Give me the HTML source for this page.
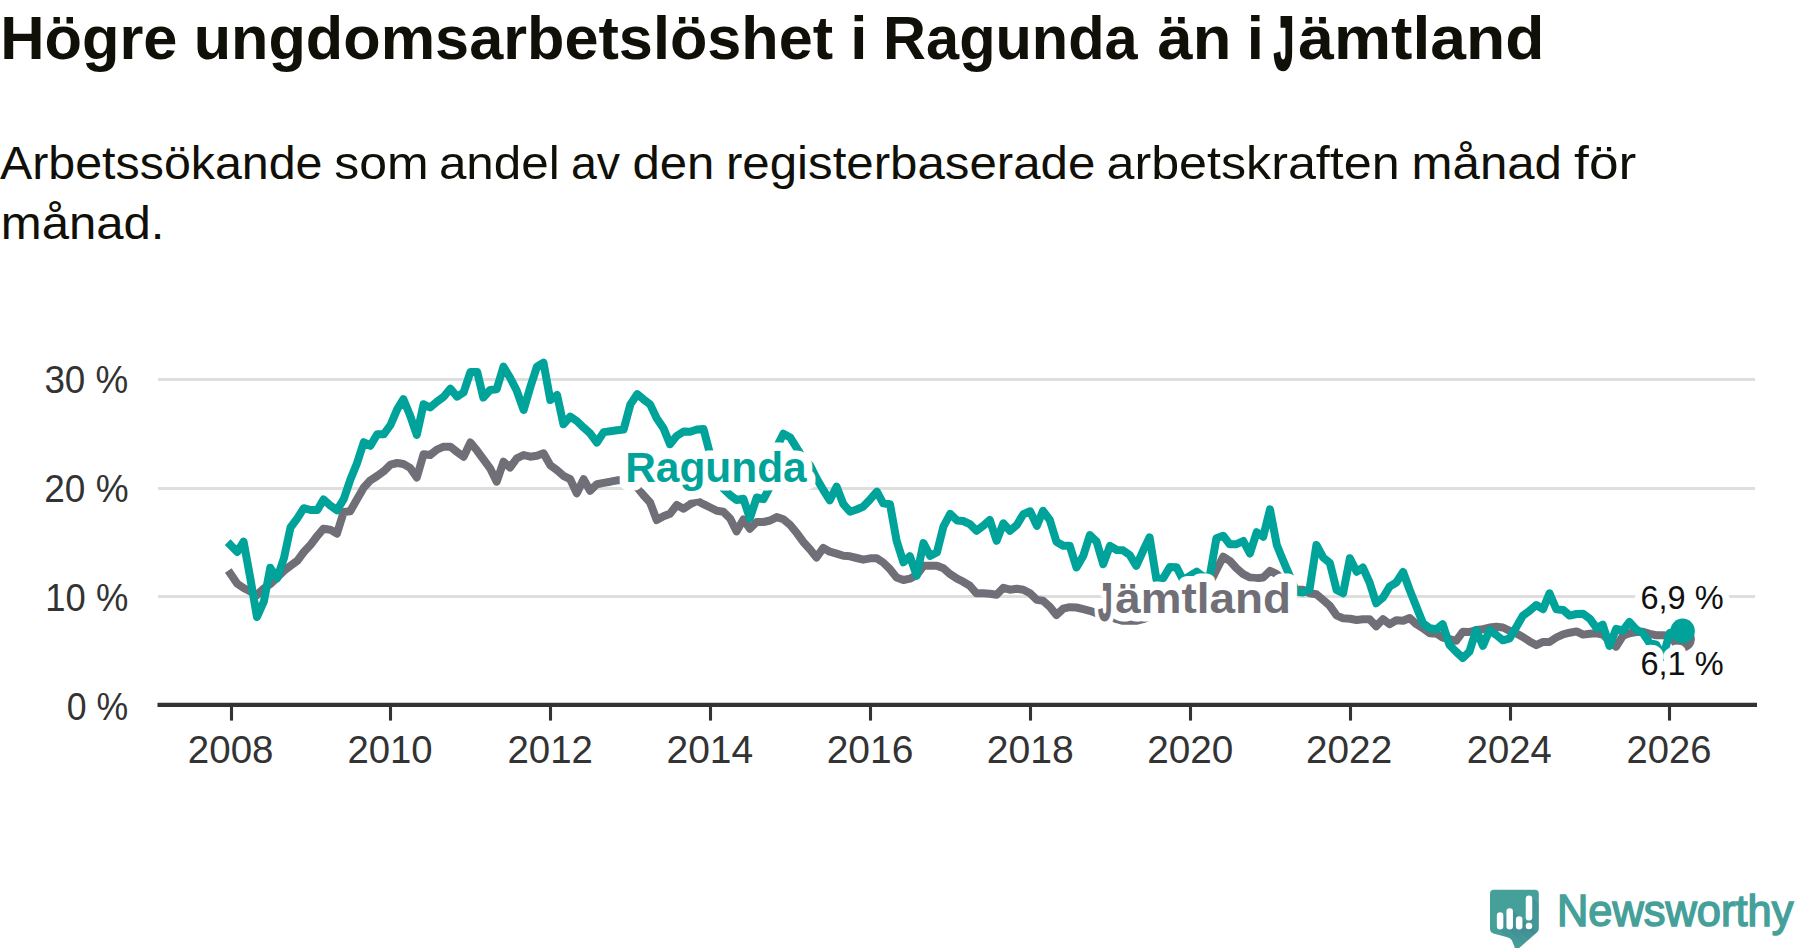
<!DOCTYPE html>
<html lang="sv"><head><meta charset="utf-8"><title>Högre ungdomsarbetslöshet i Ragunda än i Jämtland</title>
<style>html,body{margin:0;padding:0;background:#fff;overflow:hidden}svg{display:block}text{font-family:'Liberation Sans', 'DejaVu Sans', sans-serif}</style></head><body>
<svg width="1800" height="948" viewBox="0 0 1800 948">
<rect width="1800" height="948" fill="#ffffff"/>
<text><tspan x="0.20" y="59.0" font-size="61.8" fill="#111008" font-weight="bold" textLength="177.30" lengthAdjust="spacingAndGlyphs">Högre</tspan> <tspan x="193.70" y="59.0" font-size="61.8" fill="#111008" font-weight="bold" textLength="639.50" lengthAdjust="spacingAndGlyphs">ungdomsarbetslöshet</tspan> <tspan x="850.33" y="59.0" font-size="61.8" fill="#111008" font-weight="bold">i</tspan> <tspan x="883.07" y="59.0" font-size="61.8" fill="#111008" font-weight="bold" textLength="254.60" lengthAdjust="spacingAndGlyphs">Ragunda</tspan> <tspan x="1157.50" y="59.0" font-size="61.8" fill="#111008" font-weight="bold" textLength="73.80" lengthAdjust="spacingAndGlyphs">än</tspan> <tspan x="1246.78" y="59.0" font-size="61.8" fill="#111008" font-weight="bold">i</tspan> <tspan x="1274.00" y="68.5" font-size="74.1" fill="#111008" font-weight="bold" textLength="19.78" lengthAdjust="spacingAndGlyphs" stroke="#111008" stroke-width="3.4" stroke-linejoin="miter">J</tspan><tspan x="1298.20" y="59.0" font-size="61.8" fill="#111008" font-weight="bold" textLength="246.30" lengthAdjust="spacingAndGlyphs">ämtland</tspan></text>
<text><tspan x="0.00" y="178.8" font-size="46.8" fill="#111008" textLength="322.50" lengthAdjust="spacingAndGlyphs">Arbetssökande</tspan> <tspan x="334.20" y="178.8" font-size="46.8" fill="#111008" textLength="94.40" lengthAdjust="spacingAndGlyphs">som</tspan> <tspan x="438.90" y="178.8" font-size="46.8" fill="#111008" textLength="120.80" lengthAdjust="spacingAndGlyphs">andel</tspan> <tspan x="570.90" y="178.8" font-size="46.8" fill="#111008" textLength="49.10" lengthAdjust="spacingAndGlyphs">av</tspan> <tspan x="632.50" y="178.8" font-size="46.8" fill="#111008" textLength="81.90" lengthAdjust="spacingAndGlyphs">den</tspan> <tspan x="725.97" y="178.8" font-size="46.8" fill="#111008" textLength="369.40" lengthAdjust="spacingAndGlyphs">registerbaserade</tspan> <tspan x="1106.50" y="178.8" font-size="46.8" fill="#111008" textLength="293.10" lengthAdjust="spacingAndGlyphs">arbetskraften</tspan> <tspan x="1411.60" y="178.8" font-size="46.8" fill="#111008" textLength="150.30" lengthAdjust="spacingAndGlyphs">månad</tspan> <tspan x="1574.10" y="178.8" font-size="46.8" fill="#111008" textLength="62.20" lengthAdjust="spacingAndGlyphs">för</tspan> <tspan x="0.78" y="238.8" font-size="46.8" fill="#111008" textLength="163.72" lengthAdjust="spacingAndGlyphs">månad.</tspan></text>
<line x1="158" x2="1755" y1="596.45" y2="596.45" stroke="#dedede" stroke-width="3.1"/>
<line x1="158" x2="1755" y1="488.45" y2="488.45" stroke="#dedede" stroke-width="3.1"/>
<line x1="158" x2="1755" y1="379.45" y2="379.45" stroke="#dedede" stroke-width="3.1"/>
<text x="66.82" y="719.7" font-size="38.2" fill="#333333" textLength="61.46" lengthAdjust="spacingAndGlyphs">0 %</text>
<text x="45.35" y="610.9" font-size="38.2" fill="#333333" textLength="82.93" lengthAdjust="spacingAndGlyphs">10 %</text>
<text x="44.30" y="502.0" font-size="38.2" fill="#333333" textLength="84.34" lengthAdjust="spacingAndGlyphs">20 %</text>
<text x="44.39" y="392.9" font-size="38.2" fill="#333333" textLength="83.89" lengthAdjust="spacingAndGlyphs">30 %</text>
<path d="M230.5,573.7 L237.3,583.7 L243.6,588.0 L250.4,591.5 L257.0,595.0 L263.8,588.5 L270.3,584.0 L277.1,577.5 L283.9,570.8 L290.5,565.8 L297.3,560.8 L303.8,552.0 L310.6,544.7 L317.4,535.8 L323.5,528.7 L330.3,529.7 L336.9,533.7 L343.7,512.0 L350.2,511.3 L357.0,499.2 L363.8,487.5 L370.4,480.3 L377.2,476.0 L383.7,471.3 L390.5,464.7 L397.3,463.0 L403.4,464.0 L410.2,467.9 L416.8,477.5 L423.6,454.2 L430.1,455.0 L436.9,449.7 L443.7,446.7 L450.3,446.7 L457.1,452.0 L463.6,456.7 L470.4,442.5 L477.2,450.8 L483.3,459.2 L490.1,468.3 L496.7,481.7 L503.5,461.7 L510.0,467.5 L516.8,458.3 L523.6,455.0 L530.2,456.7 L536.9,455.8 L543.5,453.3 L550.3,465.3 L557.1,470.3 L563.4,475.8 L570.2,479.2 L576.8,493.3 L583.6,479.2 L590.1,490.8 L596.9,484.2 L603.7,482.9 L610.3,481.7 L617.1,480.3 L623.6,480.1 L630.4,481.1 L637.2,487.5 L643.3,495.0 L650.1,502.5 L656.7,520.0 L663.5,516.3 L670.0,513.7 L676.8,505.0 L683.6,508.7 L690.2,504.2 L697.0,500.8 L703.5,504.2 L710.3,507.5 L717.1,510.8 L723.2,511.7 L730.0,518.3 L736.6,531.4 L743.4,519.4 L749.9,528.7 L756.7,522.0 L763.5,522.0 L770.1,520.5 L776.8,517.1 L783.4,519.2 L790.2,525.0 L797.0,533.3 L803.1,541.7 L809.9,549.2 L816.5,557.5 L823.3,547.9 L829.8,551.7 L836.6,553.6 L843.4,555.8 L850.0,556.3 L856.7,558.0 L863.3,559.7 L870.1,558.3 L876.9,558.3 L883.2,562.5 L890.0,569.2 L896.6,577.5 L903.4,580.0 L909.9,578.7 L916.7,575.0 L923.5,565.8 L930.1,565.8 L936.9,565.8 L943.4,568.3 L950.2,574.2 L957.0,578.7 L963.1,581.7 L969.9,585.8 L976.5,593.3 L983.3,593.3 L989.8,593.7 L996.6,594.7 L1003.4,587.8 L1010.0,589.7 L1016.8,588.8 L1023.3,589.7 L1030.1,593.3 L1036.9,599.9 L1043.0,600.8 L1049.8,606.7 L1056.4,615.0 L1063.2,608.7 L1069.7,607.2 L1076.5,607.5 L1083.3,609.2 L1089.9,610.8 L1096.6,613.3 L1103.2,615.0 L1110.0,616.7 L1116.8,619.2 L1122.9,620.8 L1129.7,620.8 L1136.3,620.8 L1143.1,619.2 L1149.6,616.7 L1156.4,613.3 L1163.2,612.5 L1169.8,610.0 L1176.5,606.7 L1183.1,605.0 L1189.9,603.3 L1196.7,600.0 L1203.0,593.3 L1209.8,583.3 L1216.4,570.0 L1223.2,556.7 L1229.7,560.8 L1236.5,568.3 L1243.3,574.2 L1249.9,577.5 L1256.7,578.3 L1263.2,577.5 L1270.0,570.8 L1276.8,574.2 L1282.9,580.0 L1289.7,585.0 L1296.3,589.7 L1303.1,589.7 L1309.6,593.3 L1316.4,594.2 L1323.2,600.0 L1329.8,605.8 L1336.6,615.3 L1343.1,618.3 L1349.9,618.7 L1356.7,620.0 L1362.8,619.2 L1369.6,619.2 L1376.2,626.3 L1383.0,619.2 L1389.5,624.2 L1396.3,620.3 L1403.1,620.8 L1409.7,618.0 L1416.4,624.2 L1423.0,628.3 L1429.8,633.3 L1436.6,633.7 L1442.7,637.5 L1449.5,639.2 L1456.1,640.8 L1462.9,631.7 L1469.4,632.0 L1476.2,630.0 L1483.0,629.2 L1489.6,627.5 L1496.3,626.7 L1502.9,627.5 L1509.7,630.8 L1516.5,633.5 L1522.8,637.0 L1529.6,641.4 L1536.2,645.1 L1543.0,641.9 L1549.5,642.0 L1556.3,637.5 L1563.1,634.3 L1569.7,632.7 L1576.5,631.4 L1583.0,634.6 L1589.8,633.7 L1596.6,633.3 L1602.7,634.6 L1609.5,640.9 L1616.1,646.6 L1622.9,635.8 L1629.4,633.3 L1636.2,632.0 L1643.0,631.8 L1649.6,633.9 L1656.3,635.2 L1662.9,635.2 L1669.7,635.8 L1676.5,641.5 L1682.6,639.0" fill="none" stroke="#706f77" stroke-width="8.0" stroke-linejoin="round" stroke-linecap="square"/>
<circle cx="1682.6" cy="639.0" r="12.3" fill="#706f77"/>
<path d="M230.5,545.0 L237.3,552.0 L243.6,541.6 L250.4,578.8 L257.0,617.0 L263.8,601.7 L270.3,567.8 L277.1,578.3 L283.9,558.3 L290.5,527.5 L297.3,518.3 L303.8,508.2 L310.6,510.0 L317.4,510.0 L323.5,499.5 L330.3,505.5 L336.9,510.3 L343.7,499.2 L350.2,480.0 L357.0,463.3 L363.8,442.2 L370.4,445.8 L377.2,434.3 L383.7,434.3 L390.5,425.0 L397.3,409.2 L403.4,399.2 L410.2,415.8 L416.8,435.0 L423.6,404.2 L430.1,407.5 L436.9,401.7 L443.7,396.7 L450.3,388.7 L457.1,396.7 L463.6,392.5 L470.4,372.0 L477.2,372.0 L483.3,397.5 L490.1,390.0 L496.7,389.2 L503.5,366.7 L510.0,377.5 L516.8,390.8 L523.6,410.0 L530.2,387.5 L536.9,366.7 L543.5,362.7 L550.3,400.0 L557.1,395.0 L563.4,424.2 L570.2,416.7 L576.8,421.0 L583.6,427.6 L590.1,433.3 L596.9,442.5 L603.7,432.1 L610.3,431.2 L617.1,430.2 L623.6,429.6 L630.4,404.4 L637.2,394.2 L643.3,399.2 L650.1,404.4 L656.7,418.3 L663.5,428.3 L670.0,444.2 L676.8,435.8 L683.6,431.6 L690.2,431.8 L697.0,429.5 L703.5,428.9 L710.3,455.0 L717.1,473.3 L723.2,488.3 L730.0,495.0 L736.6,500.0 L743.4,498.7 L749.9,518.3 L756.7,497.5 L763.5,499.2 L770.1,486.7 L776.8,446.7 L783.4,433.7 L790.2,437.5 L797.0,448.3 L803.1,458.3 L809.9,465.0 L816.5,478.3 L823.3,490.0 L829.8,500.3 L836.6,486.7 L843.4,504.2 L850.0,511.7 L856.7,509.5 L863.3,506.6 L870.1,499.4 L876.9,491.7 L883.2,503.3 L890.0,504.2 L896.6,540.8 L903.4,562.3 L909.9,556.2 L916.7,575.8 L923.5,543.1 L930.1,555.8 L936.9,552.5 L943.4,526.7 L950.2,513.9 L957.0,520.4 L963.1,521.0 L969.9,524.1 L976.5,530.8 L983.3,525.8 L989.8,520.0 L996.6,540.8 L1003.4,523.3 L1010.0,530.8 L1016.8,525.0 L1023.3,514.2 L1030.1,511.3 L1036.9,525.8 L1043.0,510.8 L1049.8,520.0 L1056.4,541.7 L1063.2,545.8 L1069.7,545.8 L1076.5,567.5 L1083.3,555.8 L1089.9,535.0 L1096.6,541.7 L1103.2,564.2 L1110.0,545.8 L1116.8,550.0 L1122.9,550.3 L1129.7,555.0 L1136.3,565.8 L1143.1,550.8 L1149.6,537.3 L1156.4,579.2 L1163.2,578.3 L1169.8,567.1 L1176.5,567.2 L1183.1,580.0 L1189.9,575.8 L1196.7,571.7 L1203.0,576.7 L1209.8,576.0 L1216.4,538.3 L1223.2,535.8 L1229.7,544.2 L1236.5,544.2 L1243.3,541.0 L1249.9,553.5 L1256.7,532.2 L1263.2,536.7 L1270.0,509.4 L1276.8,545.0 L1282.9,560.0 L1289.7,575.8 L1296.3,591.7 L1303.1,592.5 L1309.6,589.2 L1316.4,545.0 L1323.2,557.5 L1329.8,562.8 L1336.6,590.0 L1343.1,593.3 L1349.9,558.3 L1356.7,571.7 L1362.8,567.5 L1369.6,582.5 L1376.2,603.3 L1383.0,597.5 L1389.5,586.7 L1396.3,582.5 L1403.1,572.0 L1409.7,590.0 L1416.4,606.7 L1423.0,623.3 L1429.8,628.3 L1436.6,629.2 L1442.7,624.2 L1449.5,645.0 L1456.1,651.7 L1462.9,658.0 L1469.4,651.7 L1476.2,630.0 L1483.0,645.8 L1489.6,630.0 L1496.3,635.0 L1502.9,640.3 L1509.7,638.3 L1516.5,626.7 L1522.8,615.8 L1529.6,610.8 L1536.2,605.0 L1543.0,609.2 L1549.5,593.3 L1556.3,609.2 L1563.1,609.9 L1569.7,615.6 L1576.5,614.0 L1583.0,613.7 L1589.8,618.7 L1596.6,628.2 L1602.7,624.6 L1609.5,646.0 L1616.1,628.9 L1622.9,630.5 L1629.4,622.0 L1636.2,629.5 L1643.0,633.3 L1649.6,643.1 L1656.3,644.7 L1662.9,657.3 L1669.7,633.0 L1676.5,631.6 L1682.6,630.9" fill="none" stroke="#00a39a" stroke-width="8.0" stroke-linejoin="round" stroke-linecap="square"/>
<circle cx="1682.6" cy="630.9" r="12.3" fill="#00a39a"/>
<line x1="157.5" x2="1757" y1="704.9" y2="704.9" stroke="#333333" stroke-width="4.1"/>
<line x1="231.5" x2="231.5" y1="704.9" y2="720.6" stroke="#333333" stroke-width="3.1"/>
<text x="187.86" y="762.6" font-size="38.2" fill="#333333" textLength="85.60" lengthAdjust="spacingAndGlyphs">2008</text>
<line x1="390.5" x2="390.5" y1="704.9" y2="720.6" stroke="#333333" stroke-width="3.1"/>
<text x="347.40" y="762.6" font-size="38.2" fill="#333333" textLength="85.24" lengthAdjust="spacingAndGlyphs">2010</text>
<line x1="550.5" x2="550.5" y1="704.9" y2="720.6" stroke="#333333" stroke-width="3.1"/>
<text x="507.44" y="762.6" font-size="38.2" fill="#333333" textLength="85.42" lengthAdjust="spacingAndGlyphs">2012</text>
<line x1="710.5" x2="710.5" y1="704.9" y2="720.6" stroke="#333333" stroke-width="3.1"/>
<text x="666.53" y="762.6" font-size="38.2" fill="#333333" textLength="86.68" lengthAdjust="spacingAndGlyphs">2014</text>
<line x1="870.5" x2="870.5" y1="704.9" y2="720.6" stroke="#333333" stroke-width="3.1"/>
<text x="826.67" y="762.6" font-size="38.2" fill="#333333" textLength="86.68" lengthAdjust="spacingAndGlyphs">2016</text>
<line x1="1030.5" x2="1030.5" y1="704.9" y2="720.6" stroke="#333333" stroke-width="3.1"/>
<text x="986.65" y="762.6" font-size="38.2" fill="#333333" textLength="87.04" lengthAdjust="spacingAndGlyphs">2018</text>
<line x1="1190.5" x2="1190.5" y1="704.9" y2="720.6" stroke="#333333" stroke-width="3.1"/>
<text x="1147.15" y="762.6" font-size="38.2" fill="#333333" textLength="86.14" lengthAdjust="spacingAndGlyphs">2020</text>
<line x1="1350.5" x2="1350.5" y1="704.9" y2="720.6" stroke="#333333" stroke-width="3.1"/>
<text x="1306.06" y="762.6" font-size="38.2" fill="#333333" textLength="86.14" lengthAdjust="spacingAndGlyphs">2022</text>
<line x1="1510.5" x2="1510.5" y1="704.9" y2="720.6" stroke="#333333" stroke-width="3.1"/>
<text x="1466.73" y="762.6" font-size="38.2" fill="#333333" textLength="85.06" lengthAdjust="spacingAndGlyphs">2024</text>
<line x1="1669.5" x2="1669.5" y1="704.9" y2="720.6" stroke="#333333" stroke-width="3.1"/>
<text x="1626.54" y="762.6" font-size="38.2" fill="#333333" textLength="84.88" lengthAdjust="spacingAndGlyphs">2026</text>
<text aria-hidden="true"><tspan x="625.20" y="481.8" font-size="43.2" fill="#ffffff" font-weight="bold" textLength="181.50" lengthAdjust="spacingAndGlyphs" stroke="#ffffff" stroke-width="17" stroke-linejoin="round" paint-order="stroke fill">Ragunda</tspan></text>
<text aria-hidden="true"><tspan x="1098.17" y="620.1" font-size="52.1" fill="#ffffff" font-weight="bold" textLength="13.90" lengthAdjust="spacingAndGlyphs" stroke="#ffffff" stroke-width="17" stroke-linejoin="round" paint-order="stroke fill">J</tspan><tspan x="1115.34" y="613.0" font-size="43.2" fill="#ffffff" font-weight="bold" textLength="175.76" lengthAdjust="spacingAndGlyphs" stroke="#ffffff" stroke-width="17" stroke-linejoin="round" paint-order="stroke fill">ämtland</tspan></text>
<text aria-hidden="true"><tspan x="1640.50" y="609.2" font-size="33.2" fill="#ffffff" textLength="83.10" lengthAdjust="spacingAndGlyphs" stroke="#ffffff" stroke-width="14.4" stroke-linejoin="round" paint-order="stroke fill">6,9 %</tspan></text>
<text aria-hidden="true"><tspan x="1640.50" y="675.0" font-size="33.2" fill="#ffffff" textLength="83.10" lengthAdjust="spacingAndGlyphs" stroke="#ffffff" stroke-width="14.4" stroke-linejoin="round" paint-order="stroke fill">6,1 %</tspan></text>
<text><tspan x="625.20" y="481.8" font-size="43.2" fill="#00a39a" font-weight="bold" textLength="181.50" lengthAdjust="spacingAndGlyphs">Ragunda</tspan></text>
<text><tspan x="1098.17" y="620.1" font-size="52.1" fill="#706f77" font-weight="bold" textLength="13.90" lengthAdjust="spacingAndGlyphs" stroke="#706f77" stroke-width="1.8" stroke-linejoin="miter">J</tspan><tspan x="1115.34" y="613.0" font-size="43.2" fill="#706f77" font-weight="bold" textLength="175.76" lengthAdjust="spacingAndGlyphs">ämtland</tspan></text>
<text><tspan x="1640.50" y="609.2" font-size="33.2" fill="#111111" textLength="83.10" lengthAdjust="spacingAndGlyphs">6,9 %</tspan></text>
<text><tspan x="1640.50" y="675.0" font-size="33.2" fill="#111111" textLength="83.10" lengthAdjust="spacingAndGlyphs">6,1 %</tspan></text>
<g id="logo">
<defs><clipPath id="bub"><path d="M1494,889.7 H1534.8 Q1538.8,889.7 1538.8,893.7 V928.5 Q1538.8,931 1536.8,932.6 L1517.5,949.5 H1515.5 L1512.8,942.6 Q1511.5,938.6 1508.2,937.6 L1493.4,933.4 Q1490,932.3 1490,929 V893.7 Q1490,889.7 1494,889.7 Z"/></clipPath><linearGradient id="shd" x1="0" y1="0" x2="1" y2="1"><stop offset="0" stop-color="#3b6f8c" stop-opacity="0.32"/><stop offset="1" stop-color="#3b6f8c" stop-opacity="0"/></linearGradient></defs>
<path d="M1494,889.7 H1534.8 Q1538.8,889.7 1538.8,893.7 V928.5 Q1538.8,931 1536.8,932.6 L1517.5,949.5 H1515.5 L1512.8,942.6 Q1511.5,938.6 1508.2,937.6 L1493.4,933.4 Q1490,932.3 1490,929 V893.7 Q1490,889.7 1494,889.7 Z" fill="#46a09a"/>
<g clip-path="url(#bub)">
<polygon points="1503.3,914.3 1525.3,936.3 1525.3,951.5 1520.8,951.5 1498.8,929.5 1500.1,927.5" fill="url(#shd)"/>
<polygon points="1513.0,910.3 1535.0,932.3 1535.0,951.5 1530.5,951.5 1508.5,929.5 1509.7,927.5" fill="url(#shd)"/>
<polygon points="1522.5,918.2 1544.5,940.2 1544.5,951.5 1540.0,951.5 1518.0,929.5 1519.2,927.5" fill="url(#shd)"/>
<polygon points="1532.2,897.4 1554.2,919.4 1554.2,942.5 1549.8,942.5 1527.8,920.5 1529.0,918.5" fill="url(#shd)"/>
<polygon points="1532.2,924.8 1554.2,946.8 1554.2,951.3 1549.8,951.3 1527.8,929.3 1529.0,927.3" fill="url(#shd)"/>
</g>
<rect x="1496.85" y="912.30" width="6.5" height="17.20" rx="3.25" ry="3.25" fill="#ffffff"/>
<rect x="1506.45" y="908.30" width="6.5" height="21.20" rx="3.25" ry="3.25" fill="#ffffff"/>
<rect x="1515.95" y="916.20" width="6.5" height="13.30" rx="3.25" ry="3.25" fill="#ffffff"/>
<rect x="1525.75" y="895.40" width="6.5" height="25.10" rx="3.25" ry="3.25" fill="#ffffff"/>
<rect x="1525.75" y="922.80" width="6.5" height="6.50" rx="3.25" ry="3.25" fill="#ffffff"/>
<text x="1556.98" y="925.6" font-size="43.6" fill="#46a09a" textLength="236.42" lengthAdjust="spacingAndGlyphs" stroke="#46a09a" stroke-width="1.5" stroke-linejoin="miter">Newsworthy</text>
</g>
</svg></body></html>
